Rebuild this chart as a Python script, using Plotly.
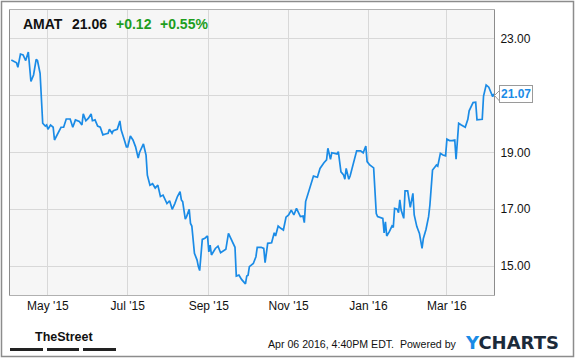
import plotly.graph_objects as go

# ---------------- data ----------------
dates = [
    "2015-04-03", "2015-04-07", "2015-04-08", "2015-04-10", "2015-04-12", "2015-04-14", "2015-04-16",
    "2015-04-18", "2015-04-20", "2015-04-22", "2015-04-23", "2015-04-25", "2015-04-27", "2015-04-29",
    "2015-04-30", "2015-05-01", "2015-05-03", "2015-05-05", "2015-05-06", "2015-05-09", "2015-05-11",
    "2015-05-13", "2015-05-15", "2015-05-18", "2015-05-20", "2015-05-22", "2015-05-25", "2015-05-27",
    "2015-05-28", "2015-05-30", "2015-06-01", "2015-06-03", "2015-06-04", "2015-06-06", "2015-06-08",
    "2015-06-10", "2015-06-12", "2015-06-14", "2015-06-16", "2015-06-17", "2015-06-19", "2015-06-20",
    "2015-06-23", "2015-06-25", "2015-06-26", "2015-06-28", "2015-06-30", "2015-07-01", "2015-07-03",
    "2015-07-05", "2015-07-07", "2015-07-09", "2015-07-10", "2015-07-13", "2015-07-15", "2015-07-16",
    "2015-07-18", "2015-07-20", "2015-07-22", "2015-07-24", "2015-07-26", "2015-07-28", "2015-07-31",
    "2015-08-02", "2015-08-04", "2015-08-06", "2015-08-08", "2015-08-10", "2015-08-11", "2015-08-12",
    "2015-08-14", "2015-08-15", "2015-08-17", "2015-08-18", "2015-08-19", "2015-08-21", "2015-08-23",
    "2015-08-24", "2015-08-25", "2015-08-27", "2015-08-29", "2015-08-31", "2015-09-01", "2015-09-02",
    "2015-09-03", "2015-09-06", "2015-09-08", "2015-09-10", "2015-09-12", "2015-09-14", "2015-09-16",
    "2015-09-18", "2015-09-21", "2015-09-22", "2015-09-24", "2015-09-26", "2015-09-29", "2015-09-30",
    "2015-10-01", "2015-10-02", "2015-10-05", "2015-10-07", "2015-10-08", "2015-10-11", "2015-10-13",
    "2015-10-14", "2015-10-16", "2015-10-19", "2015-10-21", "2015-10-22", "2015-10-24", "2015-10-26",
    "2015-10-28", "2015-10-30", "2015-11-01", "2015-11-03", "2015-11-05", "2015-11-07", "2015-11-10",
    "2015-11-12", "2015-11-13", "2015-11-14", "2015-11-16", "2015-11-18", "2015-11-20", "2015-11-23",
    "2015-11-24", "2015-11-25", "2015-11-28", "2015-11-30", "2015-12-01", "2015-12-03", "2015-12-04",
    "2015-12-06", "2015-12-08", "2015-12-09", "2015-12-11", "2015-12-13", "2015-12-14", "2015-12-15",
    "2015-12-17", "2015-12-18", "2015-12-20", "2015-12-23", "2015-12-26", "2015-12-28", "2015-12-30",
    "2015-12-31", "2016-01-02", "2016-01-04", "2016-01-05", "2016-01-07", "2016-01-08", "2016-01-12",
    "2016-01-13", "2016-01-14", "2016-01-15", "2016-01-17", "2016-01-19", "2016-01-20", "2016-01-21",
    "2016-01-23", "2016-01-24", "2016-01-25", "2016-01-26", "2016-01-28", "2016-01-29", "2016-01-31",
    "2016-02-02", "2016-02-04", "2016-02-05", "2016-02-07", "2016-02-09", "2016-02-11", "2016-02-12",
    "2016-02-14", "2016-02-16", "2016-02-17", "2016-02-19", "2016-02-21", "2016-02-22", "2016-02-23",
    "2016-02-25", "2016-02-27", "2016-02-29", "2016-03-01", "2016-03-03", "2016-03-05", "2016-03-07",
    "2016-03-08", "2016-03-10", "2016-03-12", "2016-03-15", "2016-03-17", "2016-03-18", "2016-03-21",
    "2016-03-23", "2016-03-24", "2016-03-25", "2016-03-28", "2016-03-29", "2016-03-31", "2016-04-02",
    "2016-04-04", "2016-04-05", "2016-04-06",
]
prices = [
    22.26, 22.16, 22.00, 22.47, 22.44, 22.24, 22.54,
    21.50, 21.73, 22.28, 22.24, 21.79, 20.03, 19.93,
    19.97, 19.82, 19.97, 19.89, 19.44, 19.68, 19.89,
    19.89, 20.18, 20.18, 19.89, 20.15, 20.09, 19.97,
    20.36, 20.12, 20.21, 20.36, 20.12, 20.15, 19.93,
    19.89, 19.62, 19.65, 19.68, 19.82, 19.68, 19.77,
    19.82, 20.11, 19.79, 19.50, 19.20, 19.20, 19.58,
    19.44, 19.20, 18.80, 19.00, 19.30, 18.91, 18.20,
    17.85, 17.90, 17.75, 17.85, 17.45, 17.50, 17.20,
    17.30, 17.00, 17.20, 17.45, 17.62, 17.33, 17.27,
    16.65, 16.74, 17.00, 16.50, 16.41, 15.45, 15.21,
    14.98, 14.84, 15.94, 15.98, 16.06, 15.50, 15.74,
    15.39, 15.62, 15.70, 15.47, 15.54, 15.59, 16.15,
    15.94, 15.66, 14.65, 14.68, 14.53, 14.37, 14.65,
    14.68, 14.98, 15.09, 15.33, 15.66, 15.66, 15.62,
    15.12, 15.80, 15.82, 16.17, 16.06, 16.41, 16.33,
    16.27, 16.72, 16.80, 16.97, 16.80, 17.03, 16.74,
    16.76, 16.53, 17.27, 17.56, 17.82, 18.17, 18.13,
    18.27, 18.44, 18.64, 18.74, 19.15, 18.76, 18.99,
    18.97, 18.95, 19.03, 18.32, 18.21, 18.06, 18.44,
    18.06, 18.17, 18.50, 19.06, 19.06, 18.99, 19.23,
    18.68, 18.56, 18.50, 18.46, 16.85, 16.74, 16.68,
    16.17, 16.56, 16.06, 16.21, 16.41, 16.36, 17.03,
    17.00, 16.88, 17.33, 16.97, 16.68, 17.65, 17.65,
    17.07, 17.56, 16.80, 16.39, 16.15, 15.62, 15.97,
    16.29, 16.74, 17.15, 18.38, 18.50, 18.56, 18.52,
    18.97, 18.91, 18.88, 19.47, 19.42, 19.42, 19.44,
    18.76, 20.03, 19.97, 19.89, 20.17, 20.47, 20.76,
    20.77, 20.15, 20.15, 20.17, 20.99, 21.38, 21.30,
    21.06, 20.97, 21.07,
]

x_tick_dates = ["2015-05-01", "2015-07-01", "2015-09-01", "2015-11-01", "2016-01-01", "2016-03-01"]
x_tick_labels = ["May '15", "Jul '15", "Sep '15", "Nov '15", "Jan '16", "Mar '16"]
y_tick_values = [15, 17, 19, 21, 23]
y_tick_labels = ["15.00", "17.00", "19.00", "", "23.00"]

ticker = "AMAT"
last_close = "21.06"
change = "+0.12"
change_pct = "+0.55%"
last_value = 21.07
last_label = "21.07"
footer_text = "Apr 06 2016, 4:40PM EDT.  Powered by"

# ---------------- layout geometry (pixels) ----------------
W, H = 575, 358
L, R, T, B = 10, 494, 10, 295   # plot area edges in pixels


def px(xp):
    return (xp - L) / (R - L)


def py(yp):
    return (B - yp) / (B - T)


LINE_BLUE = "#1a8be6"
GREEN = "#1e9e1e"
FONT = "Liberation Sans, Arial, sans-serif"

fig = go.Figure()
fig.add_trace(go.Scatter(
    x=dates, y=prices, mode="lines",
    line=dict(color=LINE_BLUE, width=1.7),
    hoverinfo="skip", showlegend=False,
))

shapes = []
# outer frame
shapes.append(dict(type="rect", xref="paper", yref="paper",
                   x0=px(1.5), x1=px(573.5), y0=py(356.5), y1=py(1.5),
                   line=dict(color="#8c8c8c", width=1.5), layer="above"))
# TheStreet bars
for x0, x1 in [(10, 43), (47, 79), (83, 116)]:
    shapes.append(dict(type="rect", xref="paper", yref="paper",
                       x0=px(x0), x1=px(x1), y0=py(351), y1=py(348),
                       line=dict(width=0), fillcolor="#222222"))
# pointer of last value label
shapes.append(dict(type="path", xref="paper", yref="paper",
                   path="M {a},{b} L {c},{d} L {a},{e}".format(
                       a=px(499.5), b=py(90.5), c=px(494.5), d=py(95.5), e=py(101)),
                   line=dict(color="#9a9a9a", width=1), fillcolor="white", layer="above"))

annotations = []
# header
for txt, xpos, col in [(ticker, 21, "#111111"), (last_close, 70, "#111111"),
                       (change, 114, GREEN), (change_pct, 158, GREEN)]:
    annotations.append(dict(text="<b>%s</b>" % txt, xref="paper", yref="paper",
                            x=px(xpos), y=py(24), xanchor="left", yanchor="middle",
                            showarrow=False, font=dict(family=FONT, size=14, color=col)))
# last value label
annotations.append(dict(text="<b>%s</b>" % last_label, xref="paper", yref="y",
                        x=px(499), y=last_value, xanchor="left", yanchor="middle",
                        showarrow=False, bgcolor="white", bordercolor="#9a9a9a",
                        borderwidth=1, borderpad=1,
                        font=dict(family=FONT, size=12, color=LINE_BLUE)))
# footer
annotations.append(dict(text="<b>TheStreet</b>", xref="paper", yref="paper",
                        x=px(64), y=py(337), xanchor="center", yanchor="middle",
                        showarrow=False,
                        font=dict(family=FONT, size=12.5, color="#111111")))
annotations.append(dict(text=footer_text, xref="paper", yref="paper",
                        x=px(459), y=py(344), xanchor="right", yanchor="middle",
                        showarrow=False, font=dict(family=FONT, size=10.6, color="#111111")))
annotations.append(dict(text="<b><span style='color:#1a8be6'>Y</span>CHARTS</b>",
                        xref="paper", yref="paper",
                        x=px(463), y=py(342), xanchor="left", yanchor="middle",
                        showarrow=False,
                        font=dict(family="DejaVu Sans, sans-serif", size=18, color="#1b2a3a")))

fig.update_layout(
    width=W, height=H,
    margin=dict(l=L, r=W - R, t=T, b=H - B, pad=0),
    paper_bgcolor="white",
    plot_bgcolor="#f6f6f6",
    showlegend=False,
    shapes=shapes,
    annotations=annotations,
    xaxis=dict(
        type="date", range=["2015-04-02", "2016-04-06"],
        tickvals=x_tick_dates, ticktext=x_tick_labels,
        showgrid=True, gridcolor="#d8d8d8", gridwidth=1,
        ticks="", showline=True, linecolor="#b0b0b0", linewidth=1, mirror=True,
        tickfont=dict(family=FONT, size=12, color="#111111"),
        zeroline=False, fixedrange=True,
    ),
    yaxis=dict(
        side="right", range=[13.98, 24.02],
        tickvals=y_tick_values, ticktext=y_tick_labels,
        showgrid=True, gridcolor="#d8d8d8", gridwidth=1,
        ticks="", showline=True, linecolor="#8c8c8c", linewidth=1, mirror=True,
        tickfont=dict(family=FONT, size=12, color="#111111"),
        zeroline=False, fixedrange=True, ticklabelstandoff=3,
    ),
)

fig.write_html("out.html")
